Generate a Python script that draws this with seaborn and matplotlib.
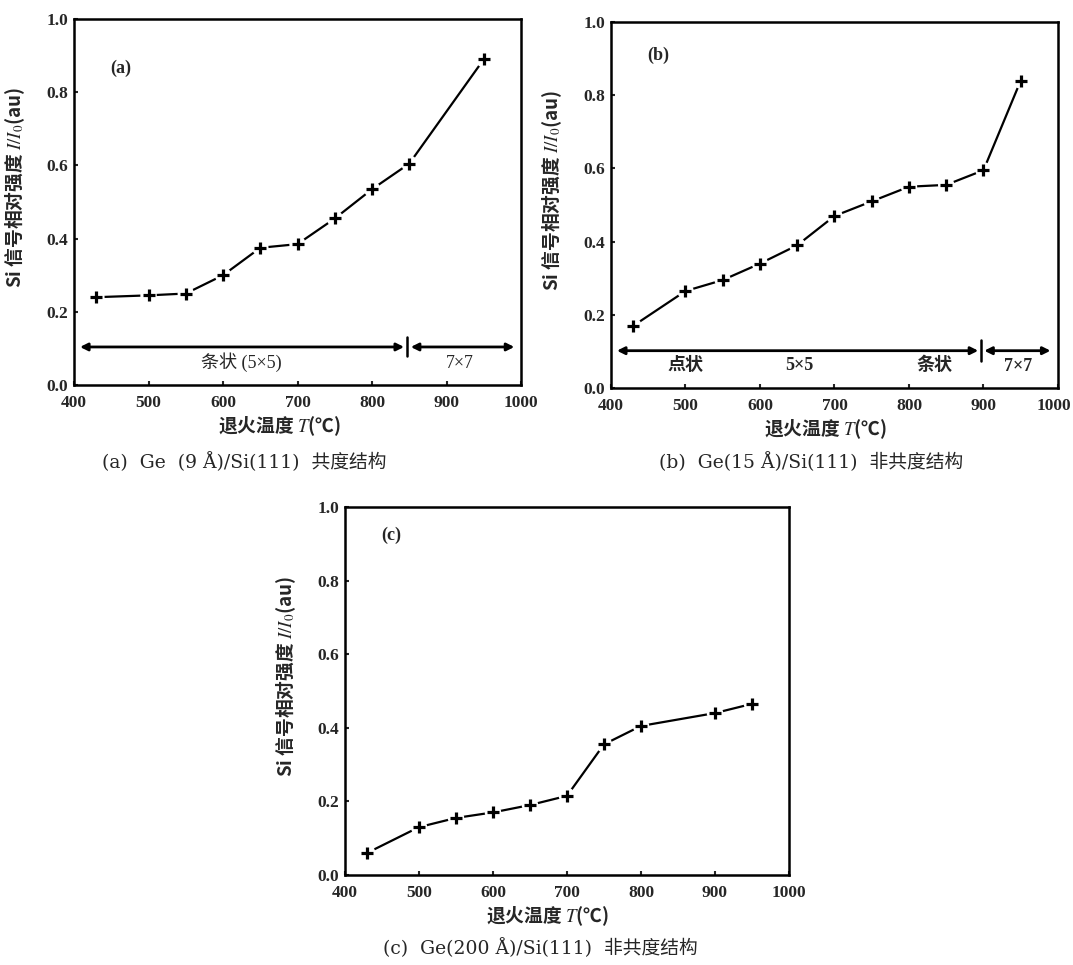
import matplotlib
matplotlib.use('Agg')
import matplotlib.pyplot as plt
import matplotlib.transforms as mtransforms
import seaborn as sns

# annealing temperatures (C) and relative Si signal I/I0
temp_a = [430, 500, 550, 600, 650, 700, 750, 800, 850, 950]
signal_a = [0.24, 0.245, 0.25, 0.30, 0.375, 0.385, 0.455, 0.535, 0.605, 0.89]

temp_b = [430, 500, 550, 600, 650, 700, 750, 800, 850, 900, 950]
signal_b = [0.17, 0.265, 0.295, 0.34, 0.39, 0.47, 0.51, 0.55, 0.555, 0.595, 0.84]

temp_c = [430, 500, 550, 600, 650, 700, 750, 800, 900, 950]
signal_c = [0.06, 0.13, 0.155, 0.17, 0.19, 0.215, 0.355, 0.405, 0.44, 0.465]

x_ticks = [400, 500, 600, 700, 800, 900, 1000]
y_ticks = [0.0, 0.2, 0.4, 0.6, 0.8, 1.0]

captions = ['(a)  Ge  (9 Å)/Si(111)  共度结构',
            '(b)  Ge(15 Å)/Si(111)  非共度结构',
            '(c)  Ge(200 Å)/Si(111)  非共度结构']

sns.set_theme(style='ticks')
plt.rcParams['font.family'] = ['Liberation Serif', 'Noto Sans CJK SC']
plt.rcParams['mathtext.fontset'] = 'stix'

cap_font = ['DejaVu Serif', 'Noto Sans CJK SC']
cjk_font = ['Noto Sans CJK SC', 'DejaVu Sans']

fig = plt.figure(figsize=(10.73, 9.65), dpi=100)
ax_a = fig.add_axes([0.0690, 0.6010, 0.4166, 0.3793])
ax_b = fig.add_axes([0.5694, 0.5979, 0.4166, 0.3793])
ax_c = fig.add_axes([0.3215, 0.0933, 0.4138, 0.3813])


def draw_panel(ax, temps, vals, tag, tag_y, xlab_x):
    sns.lineplot(x=temps, y=vals, color='black', linewidth=1.6, ax=ax, zorder=1)
    # white dots under the crosses leave small gaps in the line
    sns.scatterplot(x=temps, y=vals, marker='o', s=140, color='white',
                    edgecolor='none', ax=ax, zorder=2)
    sns.scatterplot(x=temps, y=vals, marker='+', s=80, color='black',
                    linewidth=2.3, ax=ax, zorder=3)
    ax.set_xlim(400, 1000)
    ax.set_ylim(0, 1.0)
    ax.set_xticks(x_ticks)
    ax.set_yticks(y_ticks)
    ax.set_yticklabels([f'{v:.1f}' for v in y_ticks])
    ax.tick_params(direction='in', length=3, width=1.5, labelsize=12.5)
    ax.tick_params(axis='x', pad=7)
    ax.tick_params(axis='y', pad=4)
    for lab in ax.get_xticklabels() + ax.get_yticklabels():
        lab.set_fontweight('bold')
    for sp in ax.spines.values():
        sp.set_linewidth(1.8)
        sp.set_color('black')
    ax.set_xlabel('退火温度 $T$(℃)', fontsize=13.5, fontweight='bold', family=cjk_font)
    ax.set_ylabel('Si 信号相对强度 $I/I_0$(au)', fontsize=13.5, fontweight='bold', family=cjk_font)
    ax.xaxis.set_label_coords(xlab_x, -0.08)
    ax.yaxis.set_label_coords(-0.105, 0.54)
    ax.text(463, tag_y, tag, fontsize=13, fontweight='bold', ha='center', va='center')


def span_arrow(ax, x0, x1, y):
    ax.annotate('', xy=(x1, y), xytext=(x0, y),
                arrowprops=dict(arrowstyle='<|-|>', color='black', lw=2,
                                mutation_scale=11, shrinkA=0, shrinkB=0))


draw_panel(ax_a, temp_a, signal_a, '(a)', 0.866, 0.46)
draw_panel(ax_b, temp_b, signal_b, '(b)', 0.91, 0.48)
draw_panel(ax_c, temp_c, signal_c, '(c)', 0.924, 0.457)

# keep the last tick label of (b) inside the picture
last = ax_b.get_xticklabels()[-1]
last.set_transform(last.get_transform() +
                   mtransforms.ScaledTranslation(-3 / 72, 0, fig.dpi_scale_trans))

# phase regions, panel (a)
span_arrow(ax_a, 408, 843, 0.104)
span_arrow(ax_a, 852, 991, 0.104)
ax_a.plot([847, 847], [0.08, 0.13], color='black', lw=1.8)
ax_a.text(625, 0.062, '条状 (5×5)', fontsize=13, ha='center', va='center')
ax_a.text(918, 0.060, '7×7', fontsize=13, ha='center', va='center')

# phase regions, panel (b)
span_arrow(ax_b, 408, 893, 0.102)
span_arrow(ax_b, 901, 990, 0.102)
ax_b.plot([897, 897], [0.075, 0.13], color='black', lw=1.8)
ax_b.text(500, 0.062, '点状', fontsize=13, fontweight='bold', ha='center', va='center')
ax_b.text(653, 0.062, '5×5', fontsize=13, fontweight='bold', ha='center', va='center')
ax_b.text(834, 0.062, '条状', fontsize=13, fontweight='bold', ha='center', va='center')
ax_b.text(946, 0.060, '7×7', fontsize=13, fontweight='bold', ha='center', va='center')

fig.text(244 / 1073, 1 - 462 / 965, captions[0], fontsize=13.5, family=cap_font,
         ha='center', va='center')
fig.text(811 / 1073, 1 - 462 / 965, captions[1], fontsize=13.5, family=cap_font,
         ha='center', va='center')
fig.text(540 / 1073, 1 - 948 / 965, captions[2], fontsize=13.5, family=cap_font,
         ha='center', va='center')

fig.savefig('out.png', dpi=100, facecolor='white')
